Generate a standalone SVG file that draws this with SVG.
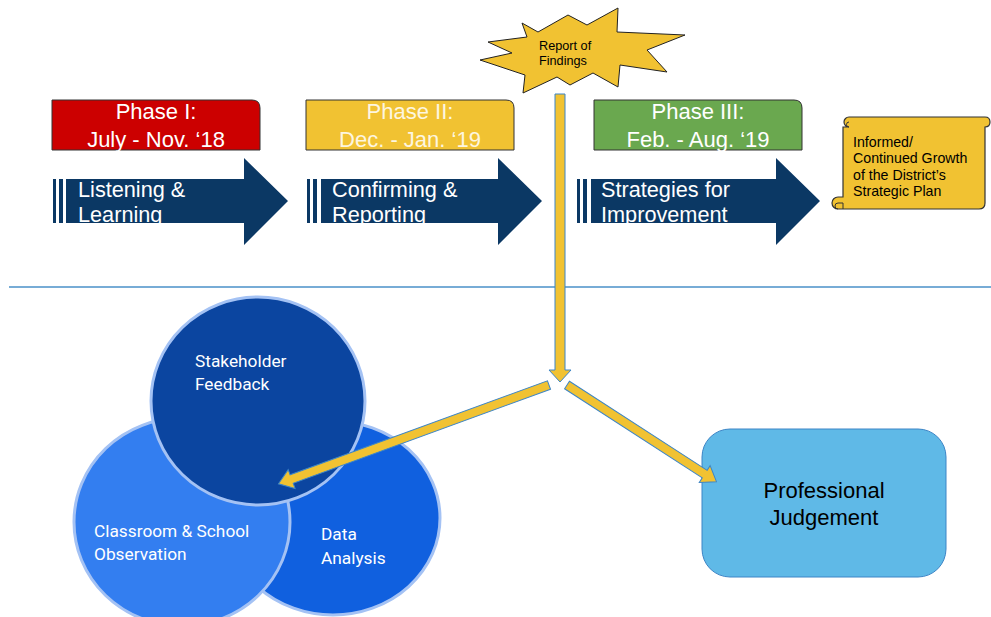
<svg xmlns="http://www.w3.org/2000/svg" width="991" height="617" viewBox="0 0 991 617">
<style>
.phase{stroke:#333;stroke-width:1}
.ptxt{font-family:"Liberation Sans",Arial,sans-serif;font-size:22px;fill:#fff;text-anchor:middle}
.arr{fill:#0b3864}
.atxt{font-family:"Liberation Sans",Arial,sans-serif;font-size:21.7px;fill:#fff}
.conn{fill:#f1c232;stroke:#3d85c6;stroke-width:1}
.ctxt{font-family:Roboto,"Liberation Sans",sans-serif;font-size:17.3px;fill:#fff}
.circ{stroke:#a4c2f4;stroke-width:3}
.btxt{font-family:"Liberation Sans",Arial,sans-serif;fill:#000}
</style>
<defs>
<clipPath id="c1"><rect x="66" y="178" width="222" height="45"/></clipPath>
<clipPath id="c2"><rect x="320" y="178" width="222" height="45"/></clipPath>
<clipPath id="c3"><rect x="590" y="178" width="230" height="45"/></clipPath>
</defs>
<rect width="991" height="617" fill="#fff"/>
<line x1="9" y1="287" x2="991" y2="287" stroke="#4a90c8" stroke-width="1.5"/>

<g id="phase1">
<path class="phase" d="M52,100 H252 Q260,100 260,108 V150 H52 Z" fill="#cc0000"/>
<text class="ptxt" x="156" y="119">Phase I:</text>
<text class="ptxt" x="156" y="147">July - Nov. ‘18</text>
</g>
<g id="phase2">
<path class="phase" d="M306,100 H506 Q514,100 514,108 V150 H306 Z" fill="#f1c232"/>
<text class="ptxt" x="410" y="119" style="fill:#fdf6e0">Phase II:</text>
<text class="ptxt" x="410" y="147" style="fill:#fdf6e0">Dec. - Jan. ‘19</text>
</g>
<g id="phase3">
<path class="phase" d="M594,100 H794 Q802,100 802,108 V150 H594 Z" fill="#6aa84f"/>
<text class="ptxt" x="698" y="119">Phase III:</text>
<text class="ptxt" x="698" y="147">Feb. - Aug. ‘19</text>
</g>

<g id="arrow1">
<rect class="arr" x="53" y="179" width="3" height="44"/>
<rect class="arr" x="59" y="179" width="4" height="44"/>
<path class="arr" d="M66,179 H244 V158 L288,201 L244,245 V223 H66 Z"/>
<g clip-path="url(#c1)"><text class="atxt" x="78" y="197">Listening &amp;</text><text class="atxt" x="78" y="222">Learning</text></g>
</g>
<g id="arrow2">
<rect class="arr" x="307" y="179" width="3" height="44"/>
<rect class="arr" x="313" y="179" width="4" height="44"/>
<path class="arr" d="M321,179 H498 V158 L542,201 L498,245 V223 H321 Z"/>
<g clip-path="url(#c2)"><text class="atxt" x="332" y="197">Confirming &amp;</text><text class="atxt" x="332" y="222">Reporting</text></g>
</g>
<g id="arrow3">
<rect class="arr" x="577" y="179" width="3" height="44"/>
<rect class="arr" x="583" y="179" width="4" height="44"/>
<path class="arr" d="M591,179 H776 V158 L820,201 L776,245 V223 H591 Z"/>
<g clip-path="url(#c3)"><text class="atxt" x="601" y="197">Strategies for</text><text class="atxt" x="601" y="222">Improvement</text></g>
</g>

<g id="scroll">
<path d="M849,117 H985 Q990,117 990,122 Q990,127 985,127 V203 Q985,209 979,209 H838 A6,6 0 0 1 838,197 H843 V127 H849 A5,5 0 0 1 849,117 Z" fill="#f1c232" stroke="#333" stroke-width="1.2"/>
<path d="M849,127 A2.5,2.5 0 0 1 849,122" fill="none" stroke="#333"/>
<path d="M838,209 A3,3 0 0 1 838,203 H843 V209" fill="none" stroke="#333"/>
<text class="btxt" font-size="14.2" x="853" y="147">Informed/</text>
<text class="btxt" font-size="14.2" x="853" y="163">Continued Growth</text>
<text class="btxt" font-size="14.2" x="853" y="180">of the District’s</text>
<text class="btxt" font-size="14.2" x="853" y="196">Strategic Plan</text>
</g>

<g id="report">
<polygon points="480,60 512,53 488,42 527,37 522,23 538,32 568,15 587,25 618,8 617,32 685,35 647,50 667,72 620,65 618,87 593,73 570,85 557,77 523,93 525,75" fill="#f1c232" stroke="#222" stroke-width="1"/>
<text class="btxt" font-size="12.7" x="539" y="50">Report of</text>
<text class="btxt" font-size="12.7" x="539" y="65">Findings</text>
</g>

<g id="data">
<ellipse class="circ" cx="333" cy="518" rx="107" ry="97" fill="#1060df"/>
<text class="ctxt" x="321" y="540">Data</text>
<text class="ctxt" x="321" y="564">Analysis</text>
</g>
<g id="classroom">
<ellipse class="circ" cx="182" cy="522" rx="108" ry="104" fill="#337ef0"/>
<text class="ctxt" x="94" y="537">Classroom &amp; School</text>
<text class="ctxt" x="94" y="560">Observation</text>
</g>
<g id="stakeholder">
<ellipse class="circ" cx="258" cy="401" rx="107" ry="104" fill="#0b45a0"/>
<text class="ctxt" x="195" y="367">Stakeholder</text>
<text class="ctxt" x="195" y="390">Feedback</text>
</g>

<g id="judgement">
<rect x="702" y="429" width="244" height="148" rx="28" fill="#5fb9e7" stroke="#3d85c6" stroke-width="1"/>
<text class="btxt" font-size="22" x="824" y="498" text-anchor="middle">Professional</text>
<text class="btxt" font-size="22" x="824" y="525" text-anchor="middle">Judgement</text>
</g>

<g id="connectors">
<polygon class="conn" transform="translate(560,94) rotate(90)" points="0,-5 276,-5 276,-11 288,0 276,11 276,5 0,5"/>
<polygon class="conn" transform="translate(549,385) rotate(159.93)" points="0,-4.5 274,-4.5 274,-10 288,0 274,10 274,4.5 0,4.5"/>
<polygon class="conn" transform="translate(567,385) rotate(32.9)" points="0,-4.5 164,-4.5 164,-10 178,0 164,10 164,4.5 0,4.5"/>
</g>
</svg>
